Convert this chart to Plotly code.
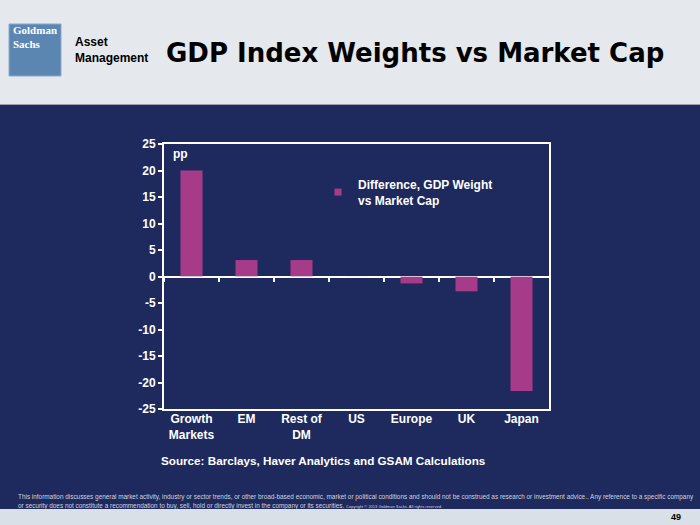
import plotly.graph_objects as go

categories = ["Growth<br>Markets", "EM", "Rest of<br>DM", "US", "Europe", "UK", "Japan"]
values = [20.0, 3.1, 3.1, 0.0, -1.3, -2.8, -21.6]
series_name = "Difference, GDP Weight<br>vs Market Cap"
y_ticks = [25, 20, 15, 10, 5, 0, -5, -10, -15, -20, -25]

NAVY = "#1e295d"
BAR = "#a63c89"
W, H = 700, 525
FONT = "Liberation Sans, Arial, sans-serif"

def px(x):
    return x / W

def py(y):
    return 1 - y / H

y_dom = [py(409), py(144)]
y_mid = (y_dom[0] + y_dom[1]) / 2

fig = go.Figure()
fig.add_trace(go.Bar(
    x=categories, y=values, name=series_name,
    marker=dict(color=BAR, line=dict(width=0)),
    showlegend=False, legendgroup="d",
))
# legend entry with a small square symbol, as in the original
fig.add_trace(go.Scatter(
    x=[None], y=[None], mode="markers", name=series_name, legendgroup="d",
    marker=dict(symbol="square", size=7, color=BAR), showlegend=True,
))
# transparent trace on a helper subplot whose x-axis sits on the zero line (carries the ticks)
fig.add_trace(go.Bar(x=categories, y=[0]*len(categories), xaxis="x2", yaxis="y2",
                     showlegend=False, hoverinfo="skip", marker=dict(color="rgba(0,0,0,0)")))

fig.update_layout(
    width=W, height=H,
    margin=dict(l=0, r=0, t=0, b=0, pad=0, autoexpand=False),
    paper_bgcolor=NAVY, plot_bgcolor="rgba(0,0,0,0)",
    bargap=0.6,
    showlegend=True,
    legend=dict(
        x=px(318), y=py(170), xanchor="left", yanchor="top",
        bgcolor="rgba(0,0,0,0)",
        font=dict(family=FONT, size=12, color="white", weight="bold"),
        itemwidth=30, tracegroupgap=0,
    ),
    xaxis=dict(
        domain=[px(164), px(549)], automargin=False,
        showline=True, linecolor="white", linewidth=2, mirror=True,
        ticks="", showgrid=False, zeroline=False, ticklabelstandoff=-2,
        tickfont=dict(family=FONT, size=12, color="white", weight="bold"),
    ),
    xaxis2=dict(
        domain=[px(164), px(549)],
        matches="x", anchor="y2", side="bottom",
        showline=False, showgrid=False, showticklabels=False, zeroline=False,
        ticks="outside", tickson="boundaries", ticklen=4, tickwidth=2, tickcolor="white",
    ),
    yaxis2=dict(
        domain=[y_mid, y_dom[1]], anchor="x2",
        range=[0, 25], showline=False, showgrid=False, showticklabels=False,
        zeroline=False, ticks="",
    ),
    yaxis=dict(
        domain=y_dom, automargin=False,
        range=[-25, 25], tickvals=y_ticks, ticktext=[str(v) for v in y_ticks],
        showline=True, linecolor="white", linewidth=2, mirror=True,
        ticks="outside", ticklen=4, tickwidth=2, tickcolor="white",
        showgrid=False,
        zeroline=True, zerolinecolor="white", zerolinewidth=2,
        tickfont=dict(family=FONT, size=12, color="white", weight="bold"),
    ),
)

shapes = [
    dict(type="rect", xref="paper", yref="paper", x0=0, x1=1, y0=py(105), y1=1,
         fillcolor="#e5e8ec", line=dict(width=0), layer="below"),
    dict(type="line", xref="paper", yref="paper", x0=0, x1=1, y0=py(104.5), y1=py(104.5),
         line=dict(color="#9aa0b0", width=1), layer="below"),
    dict(type="rect", xref="paper", yref="paper", x0=0, x1=1, y0=0, y1=py(509),
         fillcolor="#d9e0e8", line=dict(width=0), layer="below"),
    dict(type="rect", xref="paper", yref="paper", x0=px(9), x1=px(61), y0=py(76), y1=py(24),
         fillcolor="#5b86b2", line=dict(color="#8aaacb", width=1), layer="below"),
]
fig.update_layout(shapes=shapes)

ann = [
    dict(text="<b>GDP Index Weights vs Market Cap</b>", x=px(415), y=py(53),
         font=dict(family="DejaVu Sans, sans-serif", size=26, color="black")),
    dict(text="<b>Goldman<br>Sachs</b>", x=px(11), y=py(37), xanchor="left", align="left",
         font=dict(family="Liberation Serif, serif", size=11, color="white")),
    dict(text="<b>Asset<br>Management</b>", x=px(73), y=py(50), xanchor="left", align="left",
         font=dict(family=FONT, size=12, color="black")),
    dict(text="<b>pp</b>", x=px(171), y=py(154), xanchor="left",
         font=dict(family=FONT, size=12, color="white")),
    dict(text="<b>Source: Barclays, Haver Analytics and GSAM Calculations</b>", x=px(159), y=py(461),
         xanchor="left", font=dict(family=FONT, size=11.7, color="white")),
    dict(text="This information discusses general market activity, industry or sector trends, or other broad-based economic, market or political conditions and should not be construed as research or investment advice.. Any reference to a specific company",
         x=px(16), y=py(497), xanchor="left", font=dict(family=FONT, size=6.4, color="#d0d4de")),
    dict(text="or security does not constitute a recommendation to buy, sell, hold or directly invest in the company or its securities. <span style='font-size:4px'>Copyright © 2013 Goldman Sachs. All rights reserved.</span>",
         x=px(16), y=py(506), xanchor="left", font=dict(family=FONT, size=6.4, color="#d0d4de")),
    dict(text="<b>49</b>", x=px(683), y=py(517), xanchor="right",
         font=dict(family=FONT, size=9, color="black")),
]
for a in ann:
    a.setdefault("xref", "paper")
    a.setdefault("yref", "paper")
    a.setdefault("showarrow", False)
    a.setdefault("yanchor", "middle")
    fig.add_annotation(**a)

fig.write_html("out.html")
